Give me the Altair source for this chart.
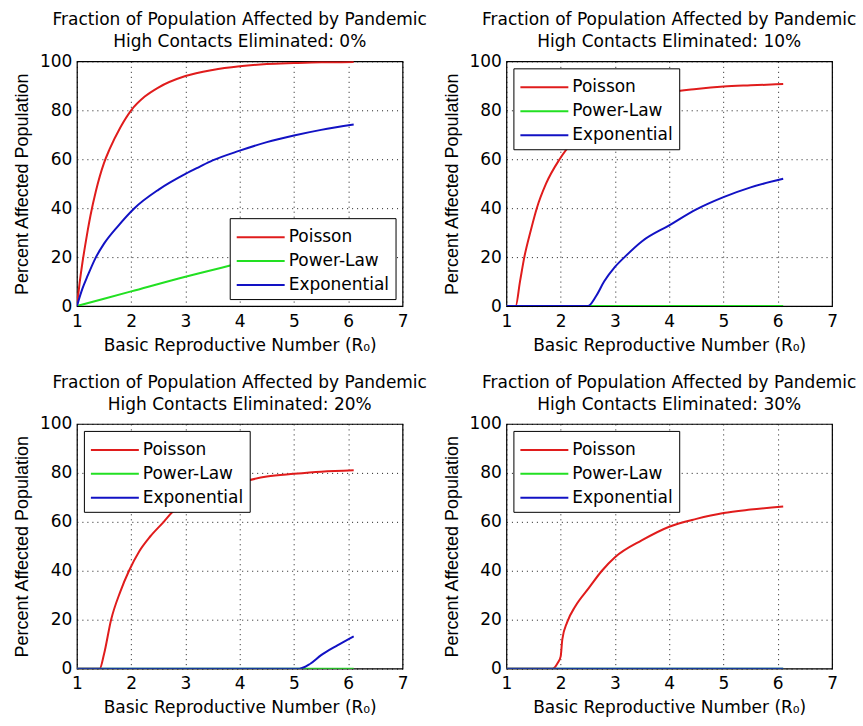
import altair as alt
import pandas as pd

SERIES = ["Poisson", "Power-Law", "Exponential"]
COLORS = ["#e01c1c", "#22e022", "#1212c4"]

# Panel 1: 0% eliminated
p0_poisson_x = [1.0, 1.05, 1.1, 1.15, 1.2, 1.25, 1.35, 1.5, 1.6, 1.8, 2.0, 2.25, 2.5, 3.0, 3.5, 4.0, 4.5, 5.0, 5.5, 6.1]
p0_poisson_y = [0, 9.5, 17.5, 24.5, 31, 37, 47, 58.5, 64, 73, 80, 85.6, 89.3, 94, 96.5, 98, 98.9, 99.3, 99.6, 99.7]
p0_power_x = [1.0, 2.0, 3.0, 4.0, 5.0, 6.1]
p0_power_y = [0, 6, 12, 17.5, 23, 29.5]
p0_expo_x = [1.0, 1.1, 1.2, 1.34, 1.5, 1.75, 2.06, 2.5, 3.0, 3.25, 3.5, 4.0, 4.5, 5.0, 5.5, 6.1]
p0_expo_y = [0, 7, 12.5, 19.5, 25.5, 32.5, 40, 47.5, 54, 56.8, 59.5, 63.5, 67, 69.7, 72, 74.2]

# Panel 2: 10% eliminated
p1_poisson_x = [1.0, 1.17, 1.25, 1.33, 1.45, 1.56, 1.73, 1.98, 2.25, 2.5, 3.0, 3.5, 4.0, 4.5, 5.0, 5.5, 6.1]
p1_poisson_y = [0, 0, 10, 20, 31, 40, 50, 60, 68, 74, 80.5, 84.5, 87.3, 88.7, 89.7, 90.2, 90.7]
p1_power_x = [1.0, 6.1]
p1_power_y = [0, 0]
p1_expo_x = [1.0, 2.5, 2.65, 2.8, 3.0, 3.2, 3.5, 4.0, 4.5, 5.0, 5.5, 6.1]
p1_expo_y = [0, 0, 4, 10, 16, 20.5, 26.5, 33, 39.5, 44.5, 48.5, 52]

# Panel 3: 20% eliminated
p2_poisson_x = [1.0, 1.42, 1.5, 1.63, 1.8, 1.96, 2.15, 2.35, 2.6, 2.76, 3.0, 3.5, 4.0, 4.5, 5.0, 5.5, 6.1]
p2_poisson_y = [0, 0, 6, 20, 31.5, 40, 48, 54, 60, 64, 67.5, 72.5, 76, 78.5, 79.6, 80.5, 81.1]
p2_power_x = [1.0, 6.1]
p2_power_y = [0, 0]
p2_expo_x = [1.0, 5.1, 5.3, 5.5, 5.8, 6.1]
p2_expo_y = [0, 0, 2, 5.5, 9.5, 13.2]

# Panel 4: 30% eliminated
p3_poisson_x = [1.0, 1.85, 1.95, 2.0, 2.03, 2.12, 2.27, 2.52, 2.76, 3.0, 3.5, 4.0, 4.5, 5.0, 5.5, 6.1]
p3_poisson_y = [0, 0, 2.5, 5, 12, 19, 25.5, 33, 40, 45.5, 52.5, 58, 61.2, 63.6, 65, 66.3]
p3_power_x = [1.0, 6.1]
p3_power_y = [0, 0]
p3_expo_x = [1.0, 6.1]
p3_expo_y = [0, 0]

PCTS = ["0%", "10%", "20%", "30%"]
LEGEND_ORIENT = ["bottom-right", "top-left", "top-left", "top-left"]

panels_data = [
    [(p0_poisson_x, p0_poisson_y), (p0_power_x, p0_power_y), (p0_expo_x, p0_expo_y)],
    [(p1_poisson_x, p1_poisson_y), (p1_power_x, p1_power_y), (p1_expo_x, p1_expo_y)],
    [(p2_poisson_x, p2_poisson_y), (p2_power_x, p2_power_y), (p2_expo_x, p2_expo_y)],
    [(p3_poisson_x, p3_poisson_y), (p3_power_x, p3_power_y), (p3_expo_x, p3_expo_y)],
]

FONT = "DejaVu Sans"
FONT_Y = "Liberation Sans"
W, H = 326, 245


def make_panel(i):
    layers = []
    for s, (xs, ys) in zip(SERIES, panels_data[i]):
        df = pd.DataFrame({"R0": xs, "Pct": ys, "Series": s})
        layers.append(
            alt.Chart(df).mark_line(strokeWidth=2, interpolate="monotone", clip=True).encode(
                x=alt.X("R0:Q", scale=alt.Scale(domain=[1, 7], nice=False),
                        axis=alt.Axis(values=[1, 2, 3, 4, 5, 6, 7], format="d",
                                      title="Basic Reproductive Number (R₀)")),
                y=alt.Y("Pct:Q", scale=alt.Scale(domain=[0, 100], nice=False),
                        axis=alt.Axis(values=[0, 20, 40, 60, 80, 100],
                                      title="Percent Affected Population")),
                color=alt.Color("Series:N",
                                scale=alt.Scale(domain=SERIES, range=COLORS),
                                legend=alt.Legend(orient=LEGEND_ORIENT[i], title=None, zindex=1)),
            )
        )
    return alt.layer(*layers).properties(
        width=W, height=H,
        title=alt.TitleParams(
            ["Fraction of Population Affected by Pandemic",
             f"High Contacts Eliminated: {PCTS[i]}"],
        ),
    )


panels = [make_panel(i) for i in range(4)]

chart = alt.concat(
    *panels, columns=2, spacing={"row": 118, "column": 104}, bounds="flush"
).resolve_scale(color="independent").properties(
    padding={"left": 12, "top": 10, "right": 5, "bottom": 5}
).configure_view(
    stroke="black", strokeWidth=1.2
).configure_axis(
    grid=True, gridColor="black", gridDash=[1, 4], gridOpacity=0.9, gridWidth=1,
    domain=False, ticks=False,
    labelFont=FONT, labelFontSize=17, labelColor="black", labelPadding=5,
    titleFont=FONT, titleFontSize=17, titleFontWeight="normal", titleColor="black",
    labelFlush=False, labelOverlap=False,
).configure_axisX(
    titlePadding=8, labelPadding=7,
).configure_axisY(
    titlePadding=8, titleFont=FONT_Y, titleFontSize=18,
).configure_title(
    font=FONT, fontSize=17, fontWeight="normal", color="black",
    anchor="middle", offset=1, lineHeight=22,
).configure_legend(
    symbolType="M-1,0H3", symbolStrokeWidth=2, symbolSize=576,
    labelFont=FONT, labelFontSize=17, labelColor="black",
    fillColor="white", strokeColor="black", padding=6, offset=7,
    rowPadding=3, labelOffset=27, symbolOpacity=1,
)

chart.save("out.html", embed_options={"renderer": "svg", "actions": False})
